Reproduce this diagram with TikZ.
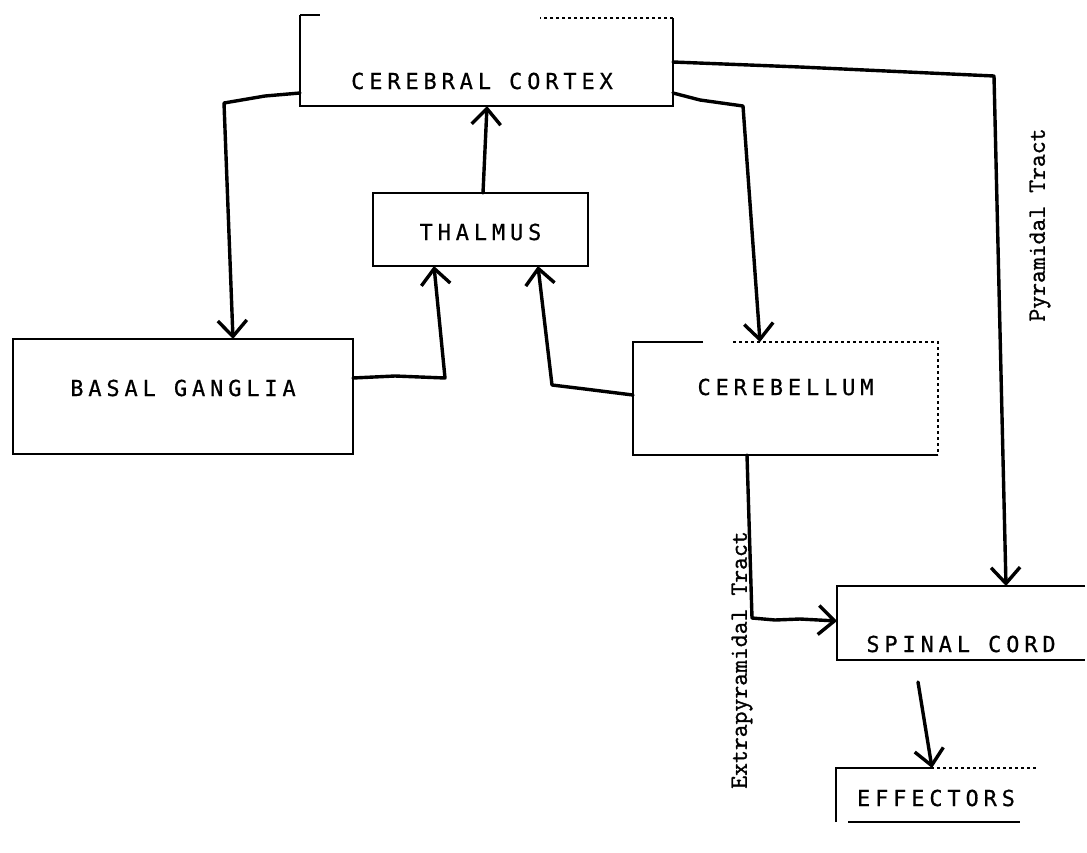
\documentclass[tikz,border=0pt]{standalone}
\usepackage{fontspec}
\usetikzlibrary{arrows.meta}
\newfontfamily\boxfont[LetterSpace=22,FakeBold=0.6]{DejaVu Sans Mono}
\newfontfamily\tractfont[FakeBold=1.2]{Latin Modern Mono}
\tikzset{
  box/.style={inner sep=0pt, outer sep=0pt, font=\boxfont\fontsize{22}{22}\selectfont},
  edge/.style={line width=2pt},
  thinedge/.style={line width=1.2pt},
  conn/.style={line width=3.4pt, line join=round, line cap=round, -{Straight Barb[length=16pt,width=29pt,line width=3.4pt]}},
  tract/.style={font=\tractfont\fontsize{25}{25}\selectfont, rotate=90, inner sep=0pt}
}
\begin{document}
\begin{tikzpicture}[x=1pt,y=-1pt]
\useasboundingbox (0,0) rectangle (1087,852);
% boxes (text placed via height/depth)
\node[box, minimum width=373pt, text height=74pt, text depth=17pt] (cortex) at (482,60.5) {CEREBRAL CORTEX};
\node[box, minimum width=340pt, text height=57pt, text depth=58pt] (basal) at (183,396.5) {BASAL GANGLIA};
\node[box, minimum width=215pt, text height=47pt, text depth=26pt] (thalmus) at (480.5,229.5) {THALMUS};
\node[box, minimum width=305pt, text height=53pt, text depth=60pt] (cerebellum) at (785.5,398.5) {CEREBELLUM};
\node[box, minimum width=248pt, text height=66pt, text depth=8pt] (spinal) at (961,623) {SPINAL CORD};
\node[box, minimum width=200pt, text height=38pt, text depth=16pt] (effectors) at (936,795) {EFFECTORS};
% box outlines
\draw[edge] ([xshift=4.5pt]cortex.north west) -- ([xshift=4.5pt]cortex.south west) -- ([xshift=4.5pt]cortex.south east) -- ([xshift=4.5pt,yshift=-3pt]cortex.north east);
\draw[edge] ([xshift=4.5pt]cortex.north west) -- ++(20,0);
\draw[thinedge, dashed] ([xshift=4.5pt,yshift=-3pt]cortex.north east) -- ++(-133,0);
\draw[edge] (basal.north west) rectangle (basal.south east);
\draw[edge] (thalmus.north west) rectangle (thalmus.south east);
\draw[edge] ([xshift=70pt]cerebellum.north west) -- (cerebellum.north west) -- (cerebellum.south west) -- (cerebellum.south east);
\draw[thinedge, dashed] ([xshift=100pt]cerebellum.north west) -- (cerebellum.north east) -- (cerebellum.south east);
\draw[edge] (spinal.north east) -- (spinal.north west) -- (spinal.south west) -- (spinal.south east);
\draw[edge] (effectors.south west) -- (effectors.north west) -- ++(95,0);
\draw[thinedge, dashed] (effectors.north west) ++(95,0) -- (effectors.north east);
\draw[edge] (effectors.south west) ++(12,0) -- ([xshift=-16pt]effectors.south east);
% connectors
\draw[conn] (cortex.west |- 0,93) ++(4.5,0) -- (265,96) -- (224,103) -- (basal.north -| 233,0);
\draw[conn] (thalmus.north -| 483,0) -- (cortex.south -| 487,0);
\draw[conn] (basal.east |- 0,378) -- (395,376) -- (445,378) -- (thalmus.south -| 434,0);
\draw[conn] (cerebellum.west |- 0,395) -- (585,389) -- (552,385) -- (thalmus.south -| 538,0);
\draw[conn] (cortex.east |- 0,93) ++(4.5,0) -- (700,100) -- (743,106) -- (cerebellum.north -| 760,0);
\draw[conn] (cortex.east |- 0,62) ++(4.5,0) -- (800,67) -- (994,76) -- (spinal.north -| 1006,0);
\draw[conn] (cerebellum.south -| 747,0) -- (752,618) -- (775,620) -- (800,619) -- (spinal.west |- 0,621);
\draw[conn] (spinal.south -| 918,0) ++(0,22) -- (effectors.north -| 932,0);
% tract labels
\node[tract] (pyr) at (1040,225) {Pyramidal Tract};
\node[tract] (extra) at (742,660) {Extrapyramidal Tract};
\end{tikzpicture}
\end{document}
